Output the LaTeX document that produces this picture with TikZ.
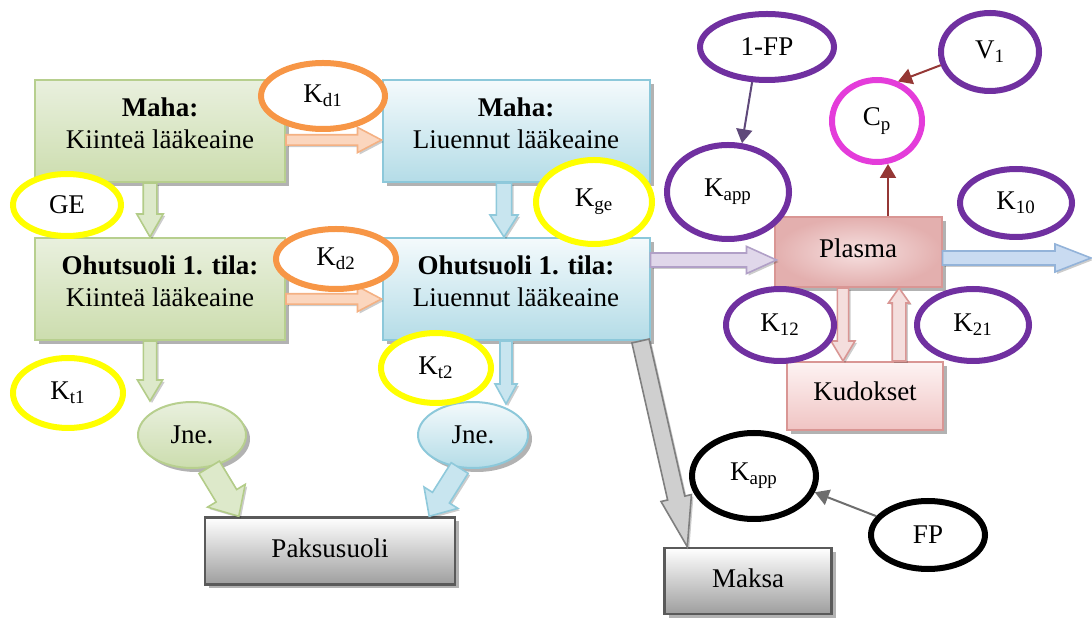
\documentclass[tikz,border=0pt]{standalone}
\usepackage{fontspec}
\setmainfont{Liberation Serif}
\usetikzlibrary{shapes.geometric,calc,shadows,arrows.meta}
\definecolor{grTop}{HTML}{E9F0DE}
\definecolor{grBot}{HTML}{CCDDAE}
\definecolor{grLine}{HTML}{B7CF8E}
\definecolor{blTop}{HTML}{F4FAFC}
\definecolor{blBot}{HTML}{B4DCE7}
\definecolor{blLine}{HTML}{8CC8DA}
\definecolor{pkIn}{HTML}{F6E0E0}
\definecolor{pkOut}{HTML}{E3AFAE}
\definecolor{pkLine}{HTML}{D99694}
\definecolor{kuTop}{HTML}{FDF3F3}
\definecolor{kuBot}{HTML}{F0C4C3}
\definecolor{gyBot}{HTML}{9E9E9E}
\definecolor{gyLine}{HTML}{5A5A5A}
\definecolor{ellOr}{HTML}{F79646}
\definecolor{ellYe}{HTML}{FFFF00}
\definecolor{ellPu}{HTML}{7030A0}
\definecolor{ellMa}{HTML}{E43CDA}
\definecolor{arPeF}{HTML}{FBD6BE}
\definecolor{arPeL}{HTML}{F4B183}
\definecolor{arGrF}{HTML}{DDE9CA}
\definecolor{arGrL}{HTML}{B3CC88}
\definecolor{arBlF}{HTML}{C8E5EF}
\definecolor{arBlL}{HTML}{8FC9DB}
\definecolor{arLaF}{HTML}{E0D7EA}
\definecolor{arLaL}{HTML}{B1A0C7}
\definecolor{arSbF}{HTML}{C9DBF1}
\definecolor{arSbL}{HTML}{93B3D9}
\definecolor{arPkF}{HTML}{F4DEDD}
\definecolor{arPkL}{HTML}{D99694}
\definecolor{arGyF}{HTML}{CFCFCF}
\definecolor{arGyL}{HTML}{7F7F7F}
\definecolor{thPu}{HTML}{5F497A}
\definecolor{thRd}{HTML}{953735}
\definecolor{thGy}{HTML}{6E6E6E}

% #1 style, #2 start, #3 end, #4 shaft half width, #5 head half width, #6 head length
\newcommand{\fatarrow}[6]{%
  \coordinate (fa-c) at ($(#3)!#6!(#2)$);
  \draw[#1] ($(#2)!#4!90:(#3)$) -- ($(fa-c)!#4!90:(#3)$) -- ($(fa-c)!#5!90:(#3)$)
    -- (#3) -- ($(fa-c)!#5!-90:(#3)$) -- ($(fa-c)!#4!-90:(#3)$)
    -- ($(#2)!#4!-90:(#3)$) -- cycle;}

\begin{document}
\begin{tikzpicture}[x=0.5pt,y=-0.5pt,
  font=\fontsize{13.5}{16}\selectfont,
  shad/.style={drop shadow={shadow xshift=2pt,shadow yshift=-2pt,opacity=0.3,fill=black}},
  box/.style={rectangle, line width=1pt, inner sep=0pt, shad},
  gbox/.style={box, draw=grLine, top color=grTop, bottom color=grBot, minimum width=125pt, minimum height=51pt},
  bbox/.style={box, draw=blLine, top color=blTop, bottom color=blBot, minimum width=133.5pt, minimum height=51pt},
  plbox/.style={box, draw=pkLine, inner color=pkIn, outer color=pkOut, minimum width=83.5pt, minimum height=35pt},
  kubox/.style={box, draw=pkLine, top color=kuTop, bottom color=kuBot, minimum width=78pt, minimum height=34pt},
  gybox/.style={box, draw=gyLine, line width=1.2pt, top color=white, bottom color=gyBot},
  lbl/.style={align=center, inner sep=0pt},
  ell/.style={ellipse, fill=white, inner sep=0pt, line width=3pt},
  orell/.style={ell, draw=ellOr},
  yeell/.style={ell, draw=ellYe},
  puell/.style={ell, draw=ellPu},
  maell/.style={ell, draw=ellMa},
  blell/.style={ell, draw=black},
  jne/.style={ellipse, inner sep=0pt, line width=1pt, shad},
  fat/.style={line width=0.8pt, line join=miter, drop shadow={shadow xshift=1pt,shadow yshift=-1pt,opacity=0.2,fill=black}},
  thin/.style={line width=1pt, -{Triangle[length=7pt,width=8pt]}}
]
\useasboundingbox (0,0) rectangle (1092,619);

% ---- boxes
\node[gbox] (g1) at (160,131) {};
\node[bbox] (b1) at (516,131) {};
\node[gbox] (g2) at (160,289) {};
\node[bbox] (b2) at (516,289) {};
\node[plbox] (plasma) at (858,252) {};
\node[kubox] (kud) at (865,396) {};
\node[gybox, minimum width=125pt, minimum height=33.5pt] (pak) at (330,551) {};
\node[gybox, minimum width=83.5pt, minimum height=33pt] (maksa) at (748,581) {};

\node[lbl] (g1t) at (160,123) {\textbf{Maha:}\\Kiinteä lääkeaine};
\node[lbl] (b1t) at (516,123) {\textbf{Maha:}\\Liuennut lääkeaine};
\node[lbl] (g2t) at (160,281) {\textbf{Ohutsuoli 1. tila:}\\Kiinteä lääkeaine};
\node[lbl] (b2t) at (516,281) {\textbf{Ohutsuoli 1. tila:}\\Liuennut lääkeaine};
\node[lbl] (plt) at (858,248) {Plasma};
\node[lbl] (kut) at (865,391) {Kudokset};
\node[lbl] (pat) at (330,548) {Paksusuoli};
\node[lbl] (mat) at (748,578) {Maksa};

% ---- Jne ellipses
\node[jne, draw=grLine, top color=grTop, bottom color=grBot, minimum width=54pt, minimum height=33pt] (jne1) at (192,435) {Jne.};
\node[jne, draw=blLine, top color=blTop, bottom color=blBot, minimum width=55pt, minimum height=33pt] (jne2) at (473,435) {Jne.};

% ---- connector end points
\coordinate (a1s) at ($(g1.east)+(0,9)$);
\coordinate (a1e) at ($(b1.west)+(0,9)$);
\coordinate (a2s) at ($(g2.east)+(0,10)$);
\coordinate (a2e) at ($(b2.west)+(0,10)$);
\coordinate (a3s) at ($(g1.south)+(-10,0)$);
\coordinate (a3e) at ($(g2.north)+(-10,0)$);
\coordinate (a4s) at ($(b1.south)+(-12,0)$);
\coordinate (a4e) at ($(b2.north)+(-12,0)$);
\coordinate (a5s) at ($(g2.south)+(-10,0)$);
\coordinate (a5e) at (a5s |- jne1.north);
\coordinate (a6s) at ($(b2.south)+(-10,0)$);
\coordinate (a6e) at ($(a6s |- jne2.north)+(0,3)$);
\coordinate (a7s) at (jne1.-62);
\coordinate (a7e) at ($(pak.north west)+(35,0)$);
\coordinate (a8s) at (jne2.-112);
\coordinate (a8e) at ($(pak.north east)+(-27,0)$);
\coordinate (a9s) at ($(b2.east)+(0,-29)$);
\coordinate (a9e) at ($(plasma.west)+(3,8)$);
\coordinate (a10s) at ($(plasma.east)+(0,6)$);
\coordinate (a10e) at (1091,258);
\coordinate (a11s) at ($(plasma.south)+(-15,0)$);
\coordinate (a11e) at (a11s |- kud.north);
\coordinate (a12s) at ($(kud.north)+(34,0)$);
\coordinate (a12e) at (a12s |- plasma.south);
\coordinate (a13s) at ($(b2.south east)+(-10,0)$);
\coordinate (a13e) at ($(maksa.north west)+(24,0)$);

% ---- block arrows
\fatarrow{fat, fill=arPeF, draw=arPeL}{a1s}{a1e}{2.6pt}{6.3pt}{12pt}
\fatarrow{fat, fill=arPeF, draw=arPeL}{a2s}{a2e}{2.6pt}{6.3pt}{12pt}
\fatarrow{fat, fill=arGrF, draw=arGrL}{a3s}{a3e}{3.4pt}{6.6pt}{11.5pt}
\fatarrow{fat, fill=arBlF, draw=arBlL}{a4s}{a4e}{3.8pt}{7pt}{11pt}
\fatarrow{fat, fill=arGrF, draw=arGrL}{a5s}{a5e}{3.3pt}{6.3pt}{10.5pt}
\fatarrow{fat, fill=arBlF, draw=arBlL}{a6s}{a6e}{3pt}{5.5pt}{10pt}
\fatarrow{fat, fill=arGrF, draw=arGrL}{a7s}{a7e}{6pt}{11pt}{12pt}
\fatarrow{fat, fill=arBlF, draw=arBlL}{a8s}{a8e}{5pt}{10pt}{11pt}
\fatarrow{fat, fill=arLaF, draw=arLaL}{a9s}{a9e}{3.5pt}{6.8pt}{15pt}
\fatarrow{fat, fill=arSbF, draw=arSbL}{a10s}{a10e}{3.5pt}{7pt}{18pt}
\fatarrow{fat, fill=arPkF, draw=arPkL}{a11s}{a11e}{2.8pt}{6pt}{10pt}
\fatarrow{fat, fill=arPkF, draw=arPkL}{a12s}{a12e}{3.4pt}{5.3pt}{7.5pt}
\fatarrow{fat, fill=arGyF, draw=arGyL}{a13s}{a13e}{4.4pt}{7.8pt}{25pt}

% ---- parameter ellipses
\node[orell, minimum width=62pt, minimum height=33pt] (kd1) at (323,96) {K\textsubscript{d1}};
\node[orell, minimum width=60pt, minimum height=30pt] (kd2) at (336,259) {K\textsubscript{d2}};
\node[yeell, minimum width=54pt, minimum height=31pt] (ge) at (67,205) {GE};
\node[yeell, minimum width=58pt, minimum height=42pt] (kge) at (594,202) {K\textsubscript{ge}};
\node[yeell, minimum width=55pt, minimum height=35pt] (kt1) at (68,393) {K\textsubscript{t1}};
\node[yeell, minimum width=55pt, minimum height=35pt] (kt2) at (436,368) {K\textsubscript{t2}};
\node[puell, minimum width=67pt, minimum height=33pt] (fp1) at (767,47) {1-FP};
\node[puell, minimum width=49pt, minimum height=39pt] (v1) at (990,52) {V\textsubscript{1}};
\node[maell, minimum width=45pt, minimum height=41pt] (cp) at (877,121) {C\textsubscript{p}};
\node[puell, minimum width=61pt, minimum height=47pt] (kapp) at (728,192) {K\textsubscript{app}};
\node[puell, minimum width=56pt, minimum height=34pt] (k10) at (1016,203) {K\textsubscript{10}};
\node[puell, minimum width=54pt, minimum height=36pt] (k12) at (780,325) {K\textsubscript{12}};
\node[puell, minimum width=56pt, minimum height=36pt] (k21) at (973,325) {K\textsubscript{21}};
\node[blell, minimum width=62pt, minimum height=43pt] (kapp2) at (754,476) {K\textsubscript{app}};
\node[blell, minimum width=57pt, minimum height=34pt] (fp) at (928,535) {FP};

% ---- thin arrows
\coordinate (t3s) at ($(plasma.north)+(30,0)$);
\coordinate (t3e) at ($(t3s |- cp.south)+(0,-1)$);
\draw[thin, thPu] (fp1.247) -- (kapp.74);
\draw[thin, thRd] (v1.195) -- (cp.62);
\draw[thin, thRd] (t3s) -- (t3e);
\draw[thin, thGy] (fp.160) -- (kapp2.-15);
\end{tikzpicture}
\end{document}
